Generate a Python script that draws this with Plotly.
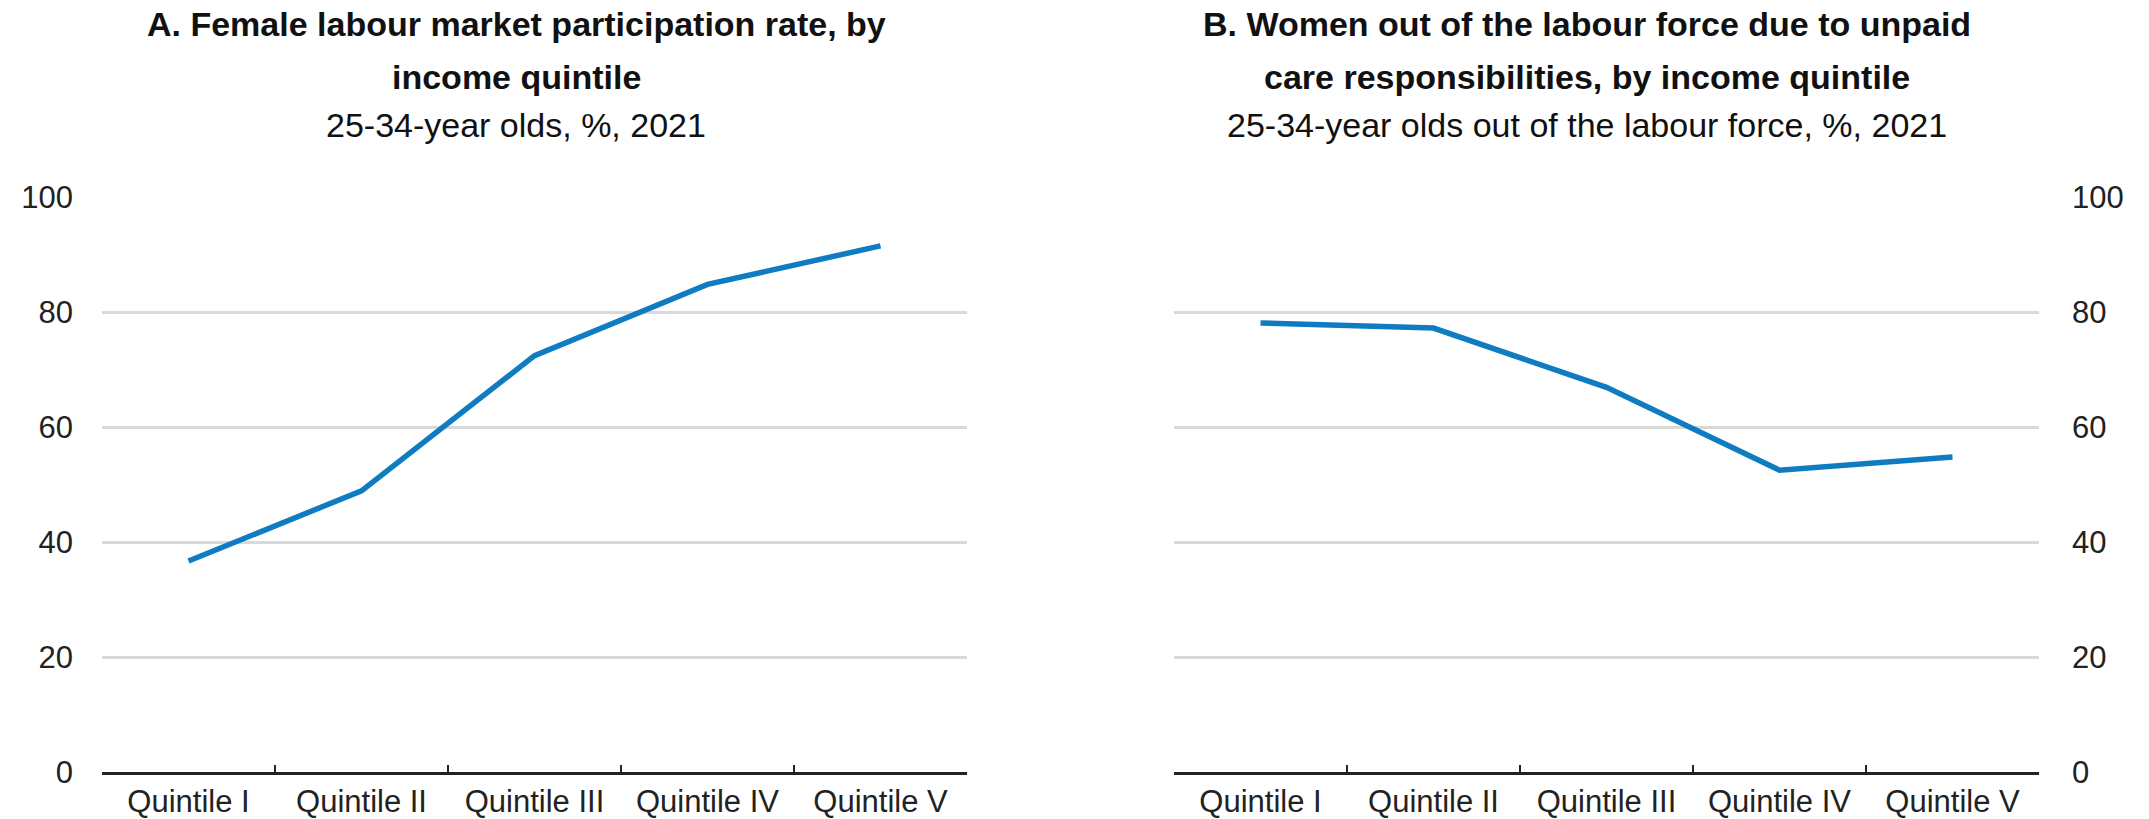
import plotly.graph_objects as go

categories = ["Quintile I", "Quintile II", "Quintile III", "Quintile IV", "Quintile V"]
participation_rate = [36.7, 48.9, 72.4, 84.8, 91.5]
care_out_of_lf = [78.1, 77.2, 66.9, 52.5, 54.8]
y_ticks = [0, 20, 40, 60, 80, 100]

title_a = ["<b>A. Female labour market participation rate, by</b>", "<b>income quintile</b>",
           "25-34-year olds, %, 2021"]
title_b = ["<b>B. Women out of the labour force due to unpaid</b>",
           "<b>care responsibilities, by income quintile</b>",
           "25-34-year olds out of the labour force, %, 2021"]

W, H = 2149, 819
FONT = "Liberation Sans, Arial, sans-serif"
BLUE = "#0F7CC2"

fig = go.Figure()
fig.add_trace(go.Scatter(x=categories, y=participation_rate, mode="lines",
                         line=dict(color=BLUE, width=5.5), xaxis="x", yaxis="y",
                         showlegend=False))
fig.add_trace(go.Scatter(x=categories, y=care_out_of_lf, mode="lines",
                         line=dict(color=BLUE, width=5.5), xaxis="x2", yaxis="y2",
                         showlegend=False))

xl = [102 / W, 967 / W]
xr = [1174 / W, 2039 / W]
yd = [(H - 772) / H, (H - 197) / H]

xcommon = dict(type="category", range=[-0.5, 4.5], showline=True, linecolor="#222222",
               linewidth=3, ticks="inside", tickson="boundaries", ticklen=7,
               tickwidth=2, tickcolor="#222222", showgrid=False, zeroline=False,
               tickfont=dict(family=FONT, size=31, color="#222222"),
               automargin=False, fixedrange=True)
ycommon = dict(range=[0, 100], tickvals=y_ticks, showgrid=True, gridcolor="#D9D9D9",
               gridwidth=3, zeroline=False, showline=False, ticks="",
               tickfont=dict(family=FONT, size=31, color="#222222"),
               automargin=False, fixedrange=True)

fig.update_layout(
    width=W, height=H,
    margin=dict(l=0, r=0, t=0, b=0),
    paper_bgcolor="white", plot_bgcolor="white",
    xaxis=dict(domain=xl, anchor="y", **xcommon),
    yaxis=dict(domain=yd, anchor="x", side="left", ticklabelstandoff=28, **ycommon),
    xaxis2=dict(domain=xr, anchor="y2", **xcommon),
    yaxis2=dict(domain=yd, anchor="x2", side="right", ticklabelstandoff=32, **ycommon),
)

line_y = [24, 77, 125]
for cx, lines in [(516 / W, title_a), (1587 / W, title_b)]:
    for txt, ly in zip(lines, line_y):
        fig.add_annotation(text=txt, x=cx, y=1 - ly / H, xref="paper", yref="paper",
                           xanchor="center", yanchor="middle", showarrow=False,
                           font=dict(family=FONT, size=34, color="#111111"))

fig.write_html("out.html", config={"displayModeBar": False},
               post_script="document.body.style.margin='0';")
